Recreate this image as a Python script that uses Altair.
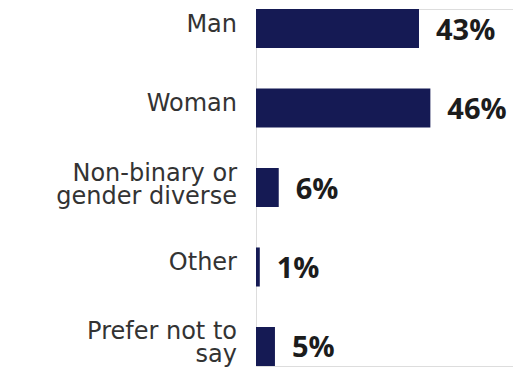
import altair as alt
import pandas as pd

categories = ["Man", "Woman", "Non-binary or|gender diverse", "Other", "Prefer not to|say"]
values = [43, 46, 6, 1, 5]
labels = ["43%", "46%", "6%", "1%", "5%"]

df = pd.DataFrame({"cat": categories, "val": values, "lab": labels})

y = alt.Y("cat:N", sort=categories,
          scale=alt.Scale(paddingInner=0.509, paddingOuter=0), axis=None)
x = alt.X("val:Q", scale=alt.Scale(domain=[0, 67.8]), axis=None)

base = alt.Chart(df)
bars = base.mark_bar(color="#151a54").encode(x=x, y=y)
values_text = base.mark_text(align="left", baseline="middle", dx=17, dy=2,
                             font="Open Sans", fontSize=29, fontWeight="bold",
                             color="#1c1c1c").encode(x=x, y=y, text="lab:N")
label_style = dict(align="right", baseline="middle", lineBreak="|", lineHeight=23,
                   font="DejaVu Sans", fontSize=24, color="#333333")
single = base.transform_filter("indexof(datum.cat, '|') < 0").mark_text(
    dy=-4, **label_style).encode(x=alt.value(-19), y=y, text="cat:N")
multi = base.transform_filter("indexof(datum.cat, '|') >= 0").mark_text(
    dy=-14, **label_style).encode(x=alt.value(-19), y=y, text="cat:N")

chart = (bars + values_text + single + multi).properties(
    width=257, height=357,
    autosize=alt.AutoSizeParams(type="none"),
    padding={"left": 256, "top": 9, "right": 0, "bottom": 2},
).configure_view(stroke=None).configure(background="white")

chart.save("out.html", embed_options={"renderer": "svg", "actions": False})
